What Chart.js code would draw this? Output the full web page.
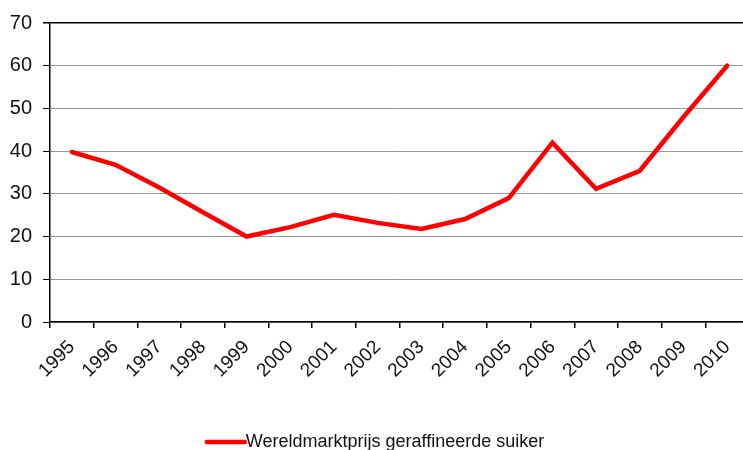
<!DOCTYPE html>
<html>
<head>
<meta charset="utf-8">
<script src="https://cdn.jsdelivr.net/npm/chart.js@4.4.0/dist/chart.umd.min.js"></script>
<style>
  html, body { margin: 0; padding: 0; background: #fff; overflow: hidden; }
  #wrap { position: relative; width: 750px; height: 461px; }
</style>
</head>
<body>
<div id="wrap"><canvas id="c"></canvas></div>
<script>
const years = ['1995','1996','1997','1998','1999','2000','2001','2002','2003','2004','2005','2006','2007','2008','2009','2010'];
const sugarPrice = [39.8, 36.8, 31.5, 25.7, 20.0, 22.2, 25.1, 23.2, 21.8, 24.1, 29.0, 42.0, 31.2, 35.4, 48.0, 60.0];
const seriesName = 'Wereldmarktprijs geraffineerde suiker';
const yMin = 0, yMax = 70, yStep = 10;

// legend line marker (red line ending just before the text)
const mk = document.createElement('canvas');
mk.width = 82; mk.height = 8;
const mctx = mk.getContext('2d');
mctx.strokeStyle = '#ff0000';
mctx.lineWidth = 4.5;
mctx.lineCap = 'round';
mctx.beginPath();
mctx.moveTo(27, 4);
mctx.lineTo(65, 4);
mctx.stroke();

new Chart(document.getElementById('c'), {
  type: 'line',
  data: {
    labels: years,
    datasets: [{
      label: seriesName,
      data: sugarPrice,
      borderColor: '#ff0000',
      backgroundColor: '#ff0000',
      borderWidth: 4.5,
      pointRadius: 0,
      tension: 0,
      borderCapStyle: 'round',
      borderJoinStyle: 'miter'
    }]
  },
  options: {
    responsive: true,
    maintainAspectRatio: false,
    animation: false,
    layout: { padding: { top: 23, right: 1, left: 0, bottom: 0 } },
    plugins: {
      legend: {
        position: 'bottom',
        labels: {
          usePointStyle: true,
          pointStyle: mk,
          pointStyleWidth: 32,
          padding: 0,
          color: '#111',
          font: { family: '"Liberation Sans", Arial, sans-serif', size: 18 }
        }
      },
      tooltip: { enabled: false }
    },
    scales: {
      x: {
        offset: true,
        grid: { offset: true, drawOnChartArea: false, tickColor: '#000', tickLength: 6, lineWidth: 1.5 },
        border: { color: '#000', width: 1.5 },
        ticks: {
          maxRotation: 45, minRotation: 45, padding: 8,
          color: '#111',
          font: { family: '"Liberation Sans", Arial, sans-serif', size: 19 }
        },
        afterFit(s) { s.height = 111; s.paddingRight = 0; s.paddingLeft = 0; }
      },
      y: {
        min: yMin, max: yMax,
        grid: {
          color: (c) => (c.tick && c.tick.value === yMax ? '#000' : '#999'),
          lineWidth: (c) => (c.tick && c.tick.value === yMax ? 1.5 : 1),
          tickColor: '#000', tickLength: 7
        },
        border: { color: '#000', width: 1.5 },
        ticks: {
          stepSize: yStep, padding: 11,
          color: '#111',
          font: { family: '"Liberation Sans", Arial, sans-serif', size: 20 }
        },
        afterFit(s) { s.width = 50; }
      }
    }
  }
});
</script>
</body>
</html>
